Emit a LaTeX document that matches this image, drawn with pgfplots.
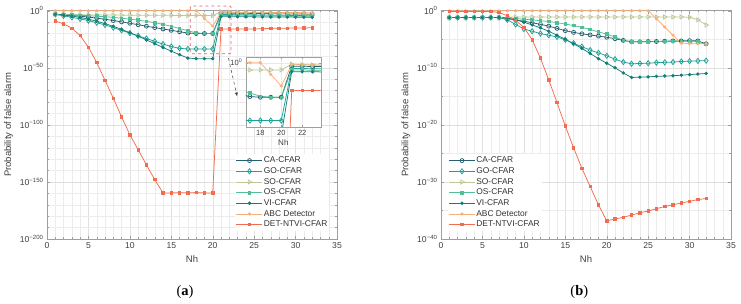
\documentclass[border=0pt]{standalone}
\usepackage{pgfplots}
\pgfplotsset{compat=1.18}
\usepackage{pgfplotstable}
\usepackage{fontspec}
\setmainfont{Liberation Sans}
\newfontfamily\serifcap{Liberation Serif}
\usetikzlibrary{arrows.meta}

\definecolor{CAcol}{RGB}{38,96,112}
\definecolor{GOcol}{RGB}{30,160,150}
\definecolor{SOcol}{RGB}{190,200,150}
\definecolor{OScol}{RGB}{80,190,150}
\definecolor{VIcol}{RGB}{20,125,120}
\definecolor{ABCcol}{RGB}{248,175,120}
\definecolor{DETcol}{RGB}{242,108,80}
\definecolor{boxred}{RGB}{236,90,105}

% values are log10 of the probability of false alarm
\pgfplotstableread{
x  CA     GO     SO    OS     VI     ABC    DET
1  -3.2   -3.2   -3.3  -3.2   -3.2   0      -9.0
2  -3.6   -4.5   -3.4  -3.4   -3.8   0      -11.6
3  -4.1   -5.8   -3.5  -3.7   -4.7   0      -15.4
4  -4.8   -7.2   -3.6  -4.0   -5.9   0      -21.8
5  -5.6   -8.7   -3.7  -4.4   -7.4   0      -32.0
6  -6.5   -10.5  -3.7  -4.8   -9.2   0      -45.4
7  -7.5   -12.5  -3.8  -5.3   -11.3  0      -61.0
8  -8.6   -14.8  -3.8  -5.9   -13.7  0      -76.6
9  -9.8   -17.2  -3.9  -6.6   -16.4  0      -93.0
10 -11.0  -19.6  -3.9  -7.4   -19.3  0      -108.7
11 -12.3  -22.0  -4.0  -8.3   -22.4  0      -121.8
12 -13.6  -24.4  -4.0  -9.3   -25.6  0      -135.0
13 -14.8  -26.8  -4.1  -10.5  -28.9  0      -148.0
14 -16.0  -29.2  -4.1  -12.0  -32.2  0      -159.6
15 -17.2  -31.4  -4.1  -13.7  -35.4  0      -159.6
16 -18.4  -33.0  -4.2  -15.6  -38.5  0      -159.5
17 -19.6  -33.5  -4.2  -17.6  -41.5  0      -159.6
18 -20.0  -33.5  -4.2  -19.4  -42.0  0      -159.3
19 -20.0  -33.5  -4.2  -20.0  -42.0  -6.8   -159.6
20 -20.0  -33.5  -4.2  -20.0  -42.0  -13.5  -159.6
21 -2.0   -3.3   -0.9  -4.2   -5.2   -1.2   -16.0
22 -2.1   -3.4   -1.1  -4.3   -5.25  -1.25  -16.1
23 -2.2   -3.5   -1.3  -4.35  -5.3   -1.3   -16.1
24 -2.3   -3.6   -1.5  -4.4   -5.35  -1.35  -16.0
25 -2.4   -3.7   -1.7  -4.5   -5.4   -1.4   -16.0
26 -2.5   -3.8   -1.9  -4.55  -5.45  -1.45  -15.8
27 -2.6   -3.9   -2.1  -4.6   -5.5   -1.5   -15.5
28 -2.7   -4.0   -2.3  -4.7   -5.55  -1.55  -15.4
29 -2.8   -4.1   -2.5  -4.75  -5.6   -1.6   -15.3
30 -2.9   -4.2   -2.7  -4.8   -5.65  -1.65  -15.2
31 -3.0   -4.3   -2.9  -4.9   -5.7   -1.7   -15.1
32 -3.1   -4.4   -3.1  -5.0   -5.8   -1.8   -15.0
}\dataA

\pgfplotstableread{
x  CA     GO     SO    OS     VI     ABC    DET
1  -1.2   -1.2   -1.2  -1.2   -1.2   0      -0.15
2  -1.2   -1.2   -1.2  -1.2   -1.2   0      -0.15
3  -1.2   -1.2   -1.2  -1.2   -1.2   0      -0.15
4  -1.2   -1.2   -1.2  -1.2   -1.2   0      -0.15
5  -1.2   -1.2   -1.2  -1.2   -1.2   0      -0.15
6  -1.2   -1.2   -1.2  -1.2   -1.2   0      -0.15
7  -1.2   -1.2   -1.2  -1.2   -1.2   0      -0.3
8  -1.4   -1.6   -1.15 -1.25  -1.3   0      -0.9
9  -1.6   -2.4   -1.1  -1.35  -1.6   0      -1.7
10 -1.85  -3.2   -1.1  -1.5   -2.0   0      -2.9
11 -2.1   -3.6   -1.1  -1.6   -2.5   0      -5.1
12 -2.4   -4.0   -1.1  -1.75  -3.0   0      -8.3
13 -2.7   -4.3   -1.1  -1.9   -3.6   0      -12.1
14 -3.1   -4.6   -1.1  -2.1   -4.3   0      -16.1
15 -3.5   -5.1   -1.1  -2.35  -5.0   0      -20.2
16 -3.8   -5.7   -1.1  -2.6   -5.8   0      -24.0
17 -4.05  -6.3   -1.1  -2.9   -6.6   0      -27.6
18 -4.25  -6.9   -1.1  -3.3   -7.5   0      -30.8
19 -4.45  -7.4   -1.1  -3.7   -8.4   0      -34.0
20 -4.65  -7.9   -1.1  -4.1   -9.2   0      -36.8
21 -4.9   -8.5   -1.1  -4.6   -10.0  0      -36.5
22 -5.2   -9.0   -1.1  -5.2   -10.9  0      -36.2
23 -5.45  -9.3   -1.1  -5.45  -11.7  0      -35.8
24 -5.45  -9.25  -1.1  -5.45  -11.65 0      -35.4
25 -5.4   -9.2   -1.1  -5.45  -11.6  0      -35.1
26 -5.4   -9.1   -1.1  -5.4   -11.5  -1.4   -34.7
27 -5.35  -9.05  -1.1  -5.4   -11.45 -2.85  -34.3
28 -5.3   -9.0   -1.1  -5.4   -11.4  -4.3   -34.0
29 -5.3   -8.9   -1.1  -5.35  -11.3  -5.7   -33.7
30 -5.25  -8.85  -1.15 -5.35  -11.2  -5.75  -33.4
31 -5.3   -8.8   -1.6  -5.5   -11.1  -5.8   -33.1
32 -5.8   -8.75  -2.5  -5.9   -11.0  -5.8   -32.9
}\dataB

\pgfplotsset{
  CAs/.style={color=CAcol, mark=o, mark size=2pt},
  GOs/.style={color=GOcol, mark=diamond, mark size=2.6pt},
  SOs/.style={color=SOcol, mark=triangle, mark size=2.4pt, mark options={rotate=-90}},
  OSs/.style={color=OScol, mark=square*, mark size=1.3pt},
  VIs/.style={color=VIcol, mark=*, mark size=1.3pt},
  ABCs/.style={color=ABCcol, mark=asterisk, mark size=1.6pt},
  DETs/.style={color=DETcol, mark=square*, mark size=1.2pt},
  base/.style={
    scale only axis, width=290pt, height=228.3pt, anchor=south west,
    xmin=0, xmax=35, xtick={0,5,...,35}, minor x tick num=4,
    grid=both,
    major grid style={gray!24, line width=0.4pt},
    minor grid style={gray!15, line width=0.3pt},
    axis line style={gray!75}, tick style={gray!75},
    major tick length=3pt, minor tick length=1.8pt,
    tick align=inside,
    /pgf/number format/assume math mode=true,
    tick label style={font=\fontsize{8.6}{10}\selectfont, text=black!75},
    label style={font=\fontsize{9.5}{11}\selectfont, text=black!75},
    xlabel={Nh}, ylabel={Probability of false alarm},
    every axis plot/.append style={line width=0.75pt},
    legend cell align=left,
    legend image code/.code={\draw[mark repeat=2,mark phase=2] plot coordinates {(0pt,0pt) (13pt,0pt) (26pt,0pt)};},
    legend style={draw=none, fill=white, font=\fontsize{8.4}{10}\selectfont, text=black!80,
      row sep=0pt, inner sep=1pt,
      nodes={inner sep=1pt, text height=6.4pt, text depth=2.27pt}},
  }
}

\begin{document}
\begin{tikzpicture}
\useasboundingbox (0,0) rectangle (741pt,304pt);

% ---------- (a) ----------
\begin{axis}[base, at={(47pt,65pt)},
  ymin=-200, ymax=0, ytick={-200,-150,-100,-50,0},
  yticklabels={10\textsuperscript{−200},10\textsuperscript{−150},10\textsuperscript{−100},10\textsuperscript{−50},10\textsuperscript{0}},
  minor y tick num=4, clip=false,
  legend style={at={(0.648,0.372)}, anchor=north west}]
\addplot[CAs]  table[x=x,y=CA]{\dataA};  \addlegendentry{CA-CFAR}
\addplot[GOs]  table[x=x,y=GO]{\dataA};  \addlegendentry{GO-CFAR}
\addplot[SOs]  table[x=x,y=SO]{\dataA};  \addlegendentry{SO-CFAR}
\addplot[OSs]  table[x=x,y=OS]{\dataA};  \addlegendentry{OS-CFAR}
\addplot[VIs]  table[x=x,y=VI]{\dataA};  \addlegendentry{VI-CFAR}
\addplot[ABCs] table[x=x,y=ABC]{\dataA}; \addlegendentry{ABC Detector}
\addplot[DETs] table[x=x,y=DET]{\dataA}; \addlegendentry{DET-NTVI-CFAR}
\draw[boxred, dashed, line width=0.8pt, rounded corners=1pt] (axis cs:17.3,4.1) rectangle (axis cs:22.2,-37.8);
\draw[black!75, dashed, line width=0.5pt, -{Latex[length=4pt,width=3pt]}] (axis cs:21.9,-41.6) -- (axis cs:22.95,-75.2);
\end{axis}

% ---------- inset ----------
\begin{axis}[at={(245.7pt,177pt)}, anchor=south west, scale only axis,
  width=75.3pt, height=69.7pt,
  xmin=16.6, xmax=23.8, ymin=-37.2, ymax=3.1,
  xtick={18,20,22}, ytick={0}, yticklabels={10\textsuperscript{0}},
  axis background/.style={fill=white},
  grid=major, major grid style={gray!18, line width=0.3pt},
  axis line style={gray!75}, tick style={gray!75},
  major tick length=2pt, tick align=inside,
  /pgf/number format/assume math mode=true,
  tick label style={font=\fontsize{7.5}{9}\selectfont, text=black!75},
  label style={font=\fontsize{8}{9}\selectfont, text=black!75},
  xlabel={Nh}, xlabel shift=-3pt,
  every axis plot/.append style={line width=0.75pt}]
\addplot[CAs]  table[x=x,y=CA]{\dataA};
\addplot[GOs]  table[x=x,y=GO]{\dataA};
\addplot[SOs]  table[x=x,y=SO]{\dataA};
\addplot[OSs]  table[x=x,y=OS]{\dataA};
\addplot[VIs]  table[x=x,y=VI]{\dataA};
\addplot[ABCs] table[x=x,y=ABC]{\dataA};
\addplot[DETs] table[x=x,y=DET]{\dataA};
\end{axis}

% ---------- (b) ----------
\begin{axis}[base, at={(441pt,65pt)},
  ymin=-40, ymax=0, ytick={-40,-30,-20,-10,0},
  yticklabels={10\textsuperscript{−40},10\textsuperscript{−30},10\textsuperscript{−20},10\textsuperscript{−10},10\textsuperscript{0}},
  minor y tick num=1,
  legend style={at={(0.022,0.372)}, anchor=north west}]
\addplot[CAs]  table[x=x,y=CA]{\dataB};  \addlegendentry{CA-CFAR}
\addplot[GOs]  table[x=x,y=GO]{\dataB};  \addlegendentry{GO-CFAR}
\addplot[SOs]  table[x=x,y=SO]{\dataB};  \addlegendentry{SO-CFAR}
\addplot[OSs]  table[x=x,y=OS]{\dataB};  \addlegendentry{OS-CFAR}
\addplot[VIs]  table[x=x,y=VI]{\dataB};  \addlegendentry{VI-CFAR}
\addplot[ABCs] table[x=x,y=ABC]{\dataB}; \addlegendentry{ABC Detector}
\addplot[DETs] table[x=x,y=DET]{\dataB}; \addlegendentry{DET-NTVI-CFAR}
\end{axis}

\node at (185pt,12.3pt) {\serifcap\fontsize{14.5}{16}\selectfont (\textbf{a})};
\node at (579.3pt,12.3pt) {\serifcap\fontsize{14.5}{16}\selectfont (\textbf{b})};
\end{tikzpicture}
\end{document}
